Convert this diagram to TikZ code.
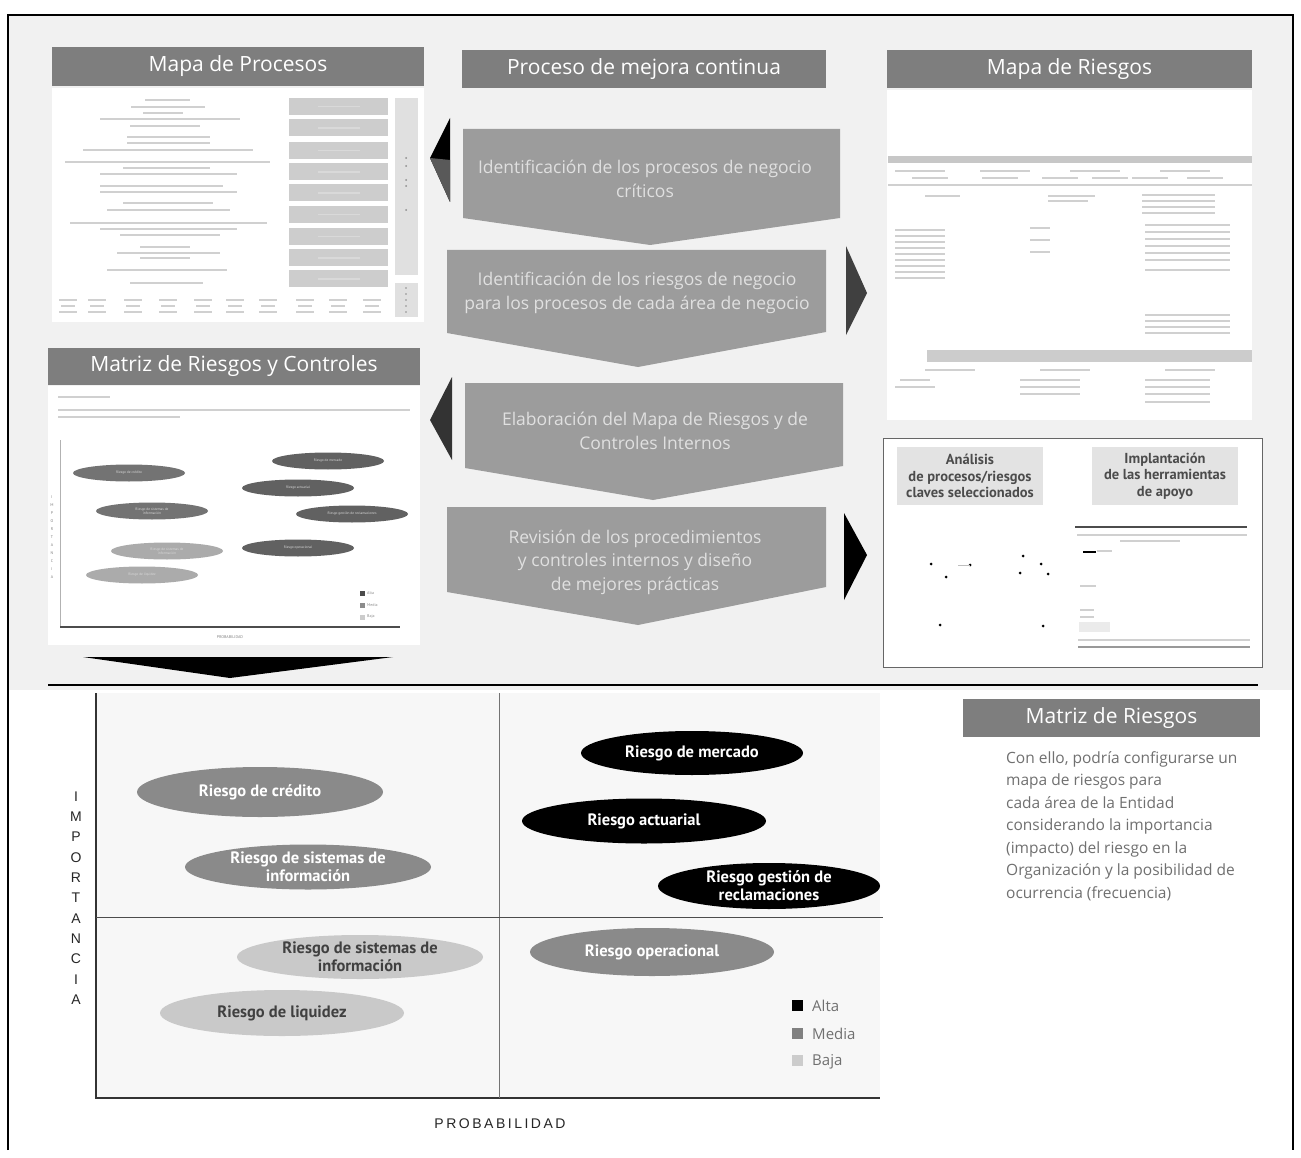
\documentclass[tikz,border=0pt]{standalone}
\usepackage{fontspec}
\setmainfont{Open Sans}
\newfontfamily\ptsans{PT Sans}
\newfontfamily\axisfont[LetterSpace=18]{Liberation Sans}
\newfontfamily\axisfontv{Liberation Sans}
\usetikzlibrary{shapes.geometric}
\definecolor{bgtop}{HTML}{F1F1F1}
\definecolor{barg}{HTML}{7E7E7E}
\definecolor{chevg}{HTML}{9C9C9C}
\definecolor{midg}{HTML}{8A8A8A}
\definecolor{lightg}{HTML}{C9C9C9}
\definecolor{faintg}{HTML}{D0D0D0}
\definecolor{boxg}{HTML}{CDCDCD}
\definecolor{txtg}{HTML}{707070}
\tikzset{
  titlebar/.style={fill=barg, text=white, font=\fontsize{21}{24}\selectfont, inner sep=0pt},
  chevtext/.style={text=white!88!black, font=\fontsize{17.5}{23.5}\selectfont, align=center, inner sep=0pt},
  riskbase/.style={ellipse, inner sep=0pt, align=center, font=\ptsans\bfseries\fontsize{16.5}{18}\selectfont},
  riskhi/.style={riskbase, fill=black, text=white},
  riskmid/.style={riskbase, fill=midg, text=white},
  risklow/.style={riskbase, fill=lightg, text=black!75},
  minirisk/.style={ellipse, inner sep=0pt, align=center, text=white!85!black, font=\ptsans\fontsize{3.5}{4}\selectfont, minimum width=112pt, minimum height=17pt},
  fline/.style={draw=faintg, line width=2pt},
  procbox/.style={fill=boxg, minimum width=99pt, minimum height=17pt, inner sep=0pt},
  legendsq/.style={minimum size=11pt, inner sep=0pt},
  legendtxt/.style={text=txtg, font=\fontsize{15}{16}\selectfont, anchor=west, inner sep=0pt},
  sublabel/.style={fill=black!11, text=black!70, align=center, font=\ptsans\bfseries\fontsize{14.5}{16.5}\selectfont, minimum width=146pt, minimum height=58pt, inner sep=0pt},
  tinytxt/.style={anchor=west, text=black!45, font=\ptsans\fontsize{4}{5}\selectfont, inner sep=0pt}
}
\begin{document}
\begin{tikzpicture}[x=1pt,y=-1pt]
\useasboundingbox (0,0) rectangle (1301,1158);
% backgrounds
\fill[white] (0,0) rectangle (1301,1158);
\fill[bgtop] (8,15) rectangle (1293,690);
\fill[white] (52,88) rectangle (424,322);
\fill[white] (48,386) rectangle (420,645);
\fill[white] (887,90) rectangle (1252,420);
% outer frame
\draw[line width=1.5pt] (8,1150) -- (8,15) -- (1293,15) -- (1293,1150);
\draw[line width=1.5pt] (48,685) -- (1258,685);

% ---------- titles
\node[titlebar, minimum width=372pt, minimum height=39pt] (tproc) at (238,66.5) {Mapa de Procesos};
\node[titlebar, minimum width=364pt, minimum height=38pt] (tmejora) at (644,69) {Proceso de mejora continua};
\node[titlebar, minimum width=365pt, minimum height=38pt] (triesgos) at (1069.5,69) {Mapa de Riesgos};
\node[titlebar, minimum width=372pt, minimum height=37pt] (tmatrizrc) at (234,366.5) {Matriz de Riesgos y Controles};
\node[titlebar, minimum width=297pt, minimum height=38pt] (tmatriz) at (1111.5,718) {Matriz de Riesgos};

% ---------- chevrons
\fill[chevg] (463,129) -- (840,129) -- (840,218) -- (650,245) -- (463,218) -- cycle;
\node[chevtext] (c1) at (645,179) {Identificación de los procesos de negocio\\críticos};
\fill[chevg] (447,250) -- (826,250) -- (826,332) -- (638,367) -- (447,333) -- cycle;
\node[chevtext] (c2) at (637,293) {Identificación de los riesgos de negocio\\para los procesos de cada área de negocio};
\fill[chevg] (465,383) -- (843,383) -- (843,466) -- (653,500) -- (465,468) -- cycle;
\node[chevtext] (c3) at (655,431) {Elaboración del Mapa de Riesgos y de\\Controles Internos};
\fill[chevg] (447,507) -- (826,507) -- (826,587) -- (638,625) -- (447,592) -- cycle;
\node[chevtext] (c4) at (635,562) {Revisión de los procedimientos\\y controles internos y diseño\\de mejores prácticas};

% ---------- side arrows
\fill[black] (450,118) -- (450,202) -- (430,158) -- cycle;
\fill[black!65] (450,160) -- (450,202) -- (430,158) -- cycle;
\fill[black!75] (846,246) -- (846,335) -- (867,293) -- cycle;
\fill[black!80] (452,377) -- (452,460) -- (430,420) -- cycle;
\fill[black] (844,513) -- (844,600) -- (867,555) -- cycle;
\fill[black] (83,657) -- (393,657) -- (230,678) -- cycle;

% ---------- Mapa de Procesos content (faint)
\foreach \y/\a/\b in {100/145/190,107/131/205,113/143/183,119/100/240,126/130/200,
  137/127/210,143/127/210,150/83/253,162/65/270,168/123/210,174/100/237,
  186/100/223,192/100/237,203/123/213,210/107/230,223/70/267,229/100/237,235/120/220,
  247/140/190,253/117/220,258/140/190,270/107/227,283/130/203}
  \draw[fline, line width=1.6pt] (\a,\y) -- (\b,\y);
\foreach \y [count=\i] in {106.5,128,150.5,172,193,214.5,236.5,258,279}
  \node[procbox] (pb\i) at (338.5,\y) {};
\foreach \y in {106.5,128,150.5,172,193,214.5,236.5,258,279}
  \draw[draw=white!85!black, line width=1.5pt] (318,\y) -- (360,\y);
\fill[black!12] (395,98) rectangle (418,275);
\fill[black!12] (395,283) rectangle (418,317);
\foreach \y in {158,166,180,186,210} \fill[black!45] (406,\y) circle (1pt);
\foreach \y in {288,294,300,306,312} \fill[black!45] (406,\y) circle (0.9pt);
\foreach \x in {68,97,133,168,203,235,268,305,338,372}{
  \draw[fline, line width=1.2pt] (\x-9,300) -- (\x+9,300);
  \draw[fline, line width=1.2pt] (\x-7,306) -- (\x+7,306);
  \draw[fline, line width=1.2pt] (\x-9,312) -- (\x+9,312);}

% ---------- Matriz de Riesgos y Controles content
\draw[fline, line width=1.3pt] (58,397) -- (110,397);
\draw[fline, line width=1.3pt] (58,410) -- (410,410);
\draw[fline, line width=1.3pt] (58,417) -- (180,417);
\draw[black!30, line width=0.8pt] (60,440) -- (60,627);
\draw[black!70, line width=1.2pt] (60,627) -- (400,627);
\node[minirisk, fill=black!55] (m1) at (129,473) {Riesgo de crédito};
\node[minirisk, fill=black!55] (m2) at (152,511) {Riesgo de sistemas de\\información};
\node[minirisk, fill=black!33] (m3) at (167,551) {Riesgo de sistemas de\\información};
\node[minirisk, fill=black!33] (m4) at (142,575) {Riesgo de liquidez};
\node[minirisk, fill=black!62] (m5) at (328,461) {Riesgo de mercado};
\node[minirisk, fill=black!62] (m6) at (298,488) {Riesgo actuarial};
\node[minirisk, fill=black!62] (m7) at (352,514) {Riesgo gestión de reclamaciones};
\node[minirisk, fill=black!62] (m8) at (298,548) {Riesgo operacional};
\node[text=black!50, align=center, font=\ptsans\fontsize{4}{8}\selectfont, inner sep=0pt] (mimp) at (52,537) {I\\M\\P\\O\\R\\T\\A\\N\\C\\I\\A};
\node[fill=black!70, minimum size=5pt, inner sep=0pt] (ml1) at (362,593) {};
\node[fill=black!45, minimum size=5pt, inner sep=0pt] (ml2) at (362,605) {};
\node[fill=black!20, minimum size=5pt, inner sep=0pt] (ml3) at (362,617) {};
\node[tinytxt] (mt1) at (367,593) {Alta};
\node[tinytxt] (mt2) at (367,605) {Media};
\node[tinytxt] (mt3) at (367,617) {Baja};
\node[text=black!50, font=\ptsans\fontsize{4}{5}\selectfont, inner sep=0pt] (mprob) at (230,637) {PROBABILIDAD};

% ---------- Mapa de Riesgos content (faint)
\fill[black!22] (888,156) rectangle (1252,163);
\foreach \x in {920,1005,1095,1185} \draw[fline, line width=1.2pt] (\x-25,171) -- (\x+25,171);
\foreach \x in {930,1000,1060,1110,1150,1205} \draw[fline, line width=1.2pt] (\x-18,178) -- (\x+18,178);
\draw[faintg, line width=1.5pt] (888,185) -- (1252,185);
\draw[fline, line width=1.2pt] (925,196) -- (960,196);
\draw[fline, line width=1.2pt] (1048,196) -- (1095,196);
\draw[fline, line width=1.2pt] (1048,201) -- (1088,201);
\foreach \y in {195,201,207,213} \draw[fline, line width=1.2pt] (1142,\y) -- (1215,\y);
\foreach \y in {230,236,242,248,254,260,266,272,278} \draw[fline, line width=1.2pt] (895,\y) -- (945,\y);
\foreach \y in {228,240,252} \draw[fline, line width=1.2pt] (1030,\y) -- (1050,\y);
\foreach \y in {225,232,239,246,253,260,270} \draw[fline, line width=1.2pt] (1145,\y) -- (1230,\y);
\foreach \y in {315,321,327,333} \draw[fline, line width=1.2pt] (1145,\y) -- (1230,\y);
\fill[black!20] (927,350) rectangle (1252,362);
\foreach \x in {950,1065,1190} \draw[fline, line width=1.2pt] (\x-25,370) -- (\x+25,370);
\foreach \y in {380,387,394} \draw[fline, line width=1.2pt] (1020,\y) -- (1080,\y);
\foreach \y in {380,387,394,402} \draw[fline, line width=1.2pt] (1145,\y) -- (1210,\y);
\draw[fline, line width=1.2pt] (900,380) -- (930,380);
\draw[fline, line width=1.2pt] (895,387) -- (935,387);

% ---------- Analisis / Implantacion box
\draw[black!60, fill=white, line width=1pt] (883,438) rectangle (1262,667);
\node[sublabel] (lanal) at (970,476) {Análisis\\de procesos/riesgos\\claves seleccionados};
\node[sublabel] (limpl) at (1165,476) {Implantación\\de las herramientas\\de apoyo};
\foreach \p in {(931,564),(946,577),(940,625),(1023,556),(1020,573),(1041,564),(1048,574),(1043,626),(970,565)}
  \fill[black] \p circle (1.5pt);
\draw[black!25, line width=0.8pt] (958,565) -- (970,565);
\draw[black!70, line width=1.5pt] (1075,527) -- (1247,527);
\draw[fline, line width=1.2pt] (1077,535) -- (1247,535);
\draw[fline, line width=1.2pt] (1120,541) -- (1180,541);
\draw[black, line width=2pt] (1083,552) -- (1096,552);
\draw[fline, line width=1.2pt] (1097,551) -- (1112,551);
\draw[fline, line width=1.2pt] (1080,586) -- (1096,586);
\draw[fline, line width=1.2pt] (1080,610) -- (1094,610);
\draw[fline, line width=1.2pt] (1080,617) -- (1094,617);
\fill[black!8] (1079,622) rectangle (1110,632);
\draw[fline, line width=1.2pt] (1078,640) -- (1250,640);
\draw[black!40, line width=1.2pt] (1078,647) -- (1250,647);

% ---------- main risk matrix
\fill[black!3] (96,693) rectangle (880,1097);
\draw[black!80, line width=1.2pt] (96,693) -- (96,1098) -- (880,1098);
\draw[black!55, line width=1pt] (499,693) -- (499,1098);
\draw[black!70, line width=1pt] (96,917) -- (883,917);

\node[riskmid, minimum width=246pt, minimum height=50pt] (rcred) at (260,792) {Riesgo de crédito};
\node[riskmid, minimum width=246pt, minimum height=45pt] (rsis1) at (308,867) {Riesgo de sistemas de\\información};
\node[risklow, minimum width=246pt, minimum height=44pt] (rsis2) at (360,957) {Riesgo de sistemas de\\información};
\node[risklow, minimum width=244pt, minimum height=46pt] (rliq) at (282,1013) {Riesgo de liquidez};
\node[riskhi, minimum width=222pt, minimum height=44pt] (rmerc) at (692,753) {Riesgo de mercado};
\node[riskhi, minimum width=244pt, minimum height=45pt] (ract) at (644,821) {Riesgo actuarial};
\node[riskhi, minimum width=222pt, minimum height=46pt] (rgest) at (769,886) {Riesgo gestión de\\reclamaciones};
\node[riskmid, minimum width=244pt, minimum height=48pt] (roper) at (652,952) {Riesgo operacional};

\node[legendsq, fill=black] (lalta) at (797,1005) {};
\node[legendsq, fill=black!50] (lmedia) at (797,1033) {};
\node[legendsq, fill=black!20] (lbaja) at (797,1060) {};
\node[legendtxt] (talta) at (812,1006) {Alta};
\node[legendtxt] (tmedia) at (812,1034) {Media};
\node[legendtxt] (tbaja) at (812,1062) {Baja};

\node[align=center, text=black!85, font=\axisfontv\fontsize{14}{20.3}\selectfont, inner sep=0pt] (ylab) at (76,898) {I\\M\\P\\O\\R\\T\\A\\N\\C\\I\\A};
\node[text=black!85, font=\axisfont\fontsize{14}{15}\selectfont, inner sep=0pt] (xlab) at (500,1124) {PROBABILIDAD};

% ---------- explanatory text
\node[anchor=north west, align=left, text=txtg, font=\fontsize{15.5}{22.5}\selectfont, inner sep=0pt] (expl) at (1006,751)
 {Con ello, podría configurarse un\\mapa de riesgos para\\cada área de la Entidad\\considerando la importancia\\(impacto) del riesgo en la\\Organización y la posibilidad de\\ocurrencia (frecuencia)};
\end{tikzpicture}
\end{document}
